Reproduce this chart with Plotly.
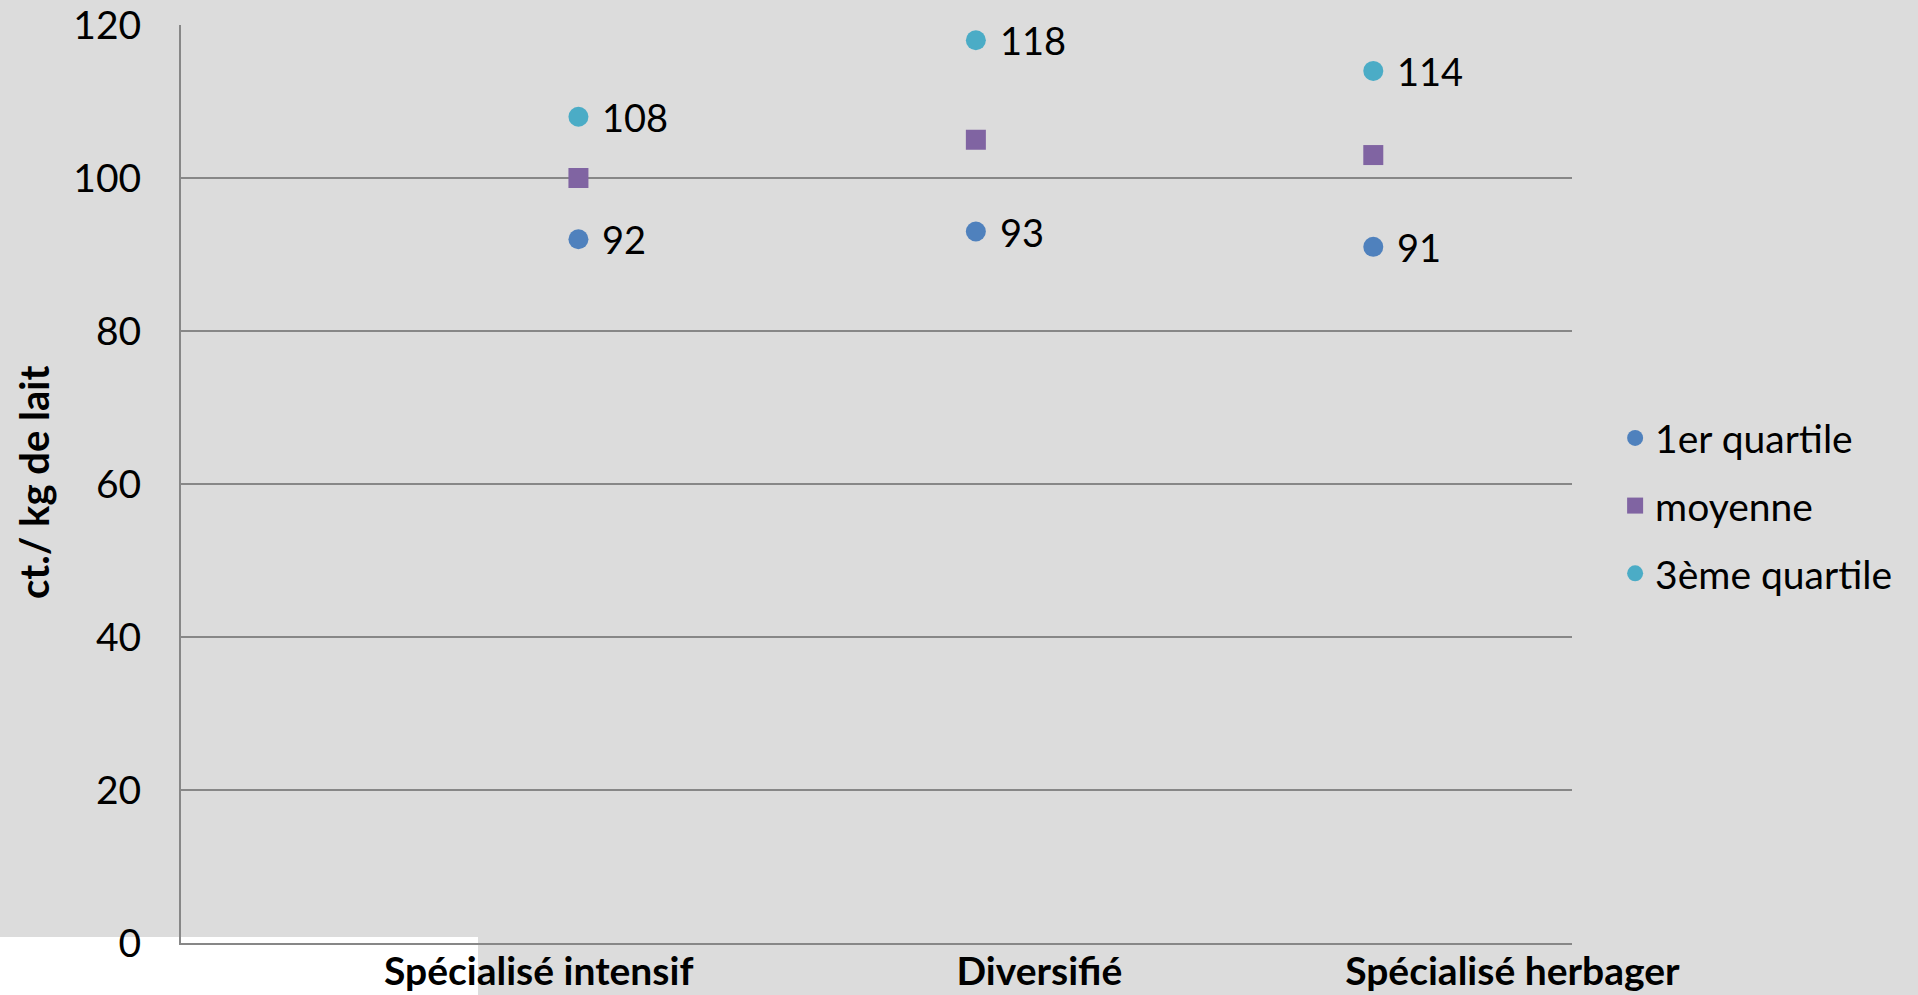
import plotly.graph_objects as go

# Data
categories = ["Spécialisé intensif", "Diversifié", "Spécialisé herbager"]
x_pos = [1, 2, 3]
q1 = [92, 93, 91]
moyenne = [100, 105, 103]
q3 = [108, 118, 114]
series_names = ["1er quartile", "moyenne", "3ème quartile"]
y_ticks = [0, 20, 40, 60, 80, 100, 120]

# Layout constants
W, H = 1918, 995
L, R, T, B = 181, 346, 25, 52
BG = "#DCDCDC"
GRID = "#878787"
FONT = "Lato"
label_tickvals = [0.9, 2.16, 3.35]

fig = go.Figure()
fig.add_trace(go.Scatter(
    x=x_pos, y=q1, name=series_names[0], mode="markers",
    marker=dict(symbol="circle", size=20, color="#4F81BD"),
    legendgroup="a", cliponaxis=False))
fig.add_trace(go.Scatter(
    x=x_pos, y=moyenne, name=series_names[1], mode="markers",
    marker=dict(symbol="square", size=20, color="#8064A2"),
    legendgroup="b", cliponaxis=False))
fig.add_trace(go.Scatter(
    x=x_pos, y=q3, name=series_names[2], mode="markers",
    marker=dict(symbol="circle", size=20, color="#4BACC6"),
    legendgroup="c", cliponaxis=False))

annotations = []
for series in (q1, q3):
    for xv, yv in zip(x_pos, series):
        annotations.append(dict(
            x=xv, y=yv, xref="x", yref="y", text=str(yv), showarrow=False,
            xanchor="left", yanchor="middle", xshift=22, yshift=0,
            font=dict(size=38, family=FONT, color="#000000")))
annotations.append(dict(
    text="<b>ct./ kg de lait</b>", textangle=-90,
    xref="paper", yref="paper",
    x=(34 - L) / (W - L - R), y=(943 - 483) / (H - T - B),
    xanchor="center", yanchor="middle", showarrow=False,
    font=dict(size=40, family=FONT)))

fig.update_layout(
    width=W, height=H,
    margin=dict(l=L, r=R, t=T, b=B, autoexpand=False),
    paper_bgcolor=BG, plot_bgcolor=BG,
    font=dict(family=FONT, size=38, color="#000000"),
    showlegend=True,
    legend=dict(x=1.031, xanchor="left", y=0.476, yanchor="middle",
                bgcolor="rgba(0,0,0,0)", font=dict(size=39, family=FONT),
                tracegroupgap=14, itemsizing="trace"),
    xaxis=dict(range=[0, 3.5], tickmode="array", tickvals=label_tickvals,
               ticktext=[f"<b>{c}</b>" for c in categories],
               showgrid=False, zeroline=False, showline=True,
               linecolor=GRID, linewidth=2, ticks="", automargin=False,
               tickfont=dict(size=39, family=FONT), ticklabelstandoff=-7),
    yaxis=dict(range=[0, 120], tickmode="array", tickvals=y_ticks,
               showgrid=True, gridcolor=GRID, gridwidth=2,
               zeroline=False, showline=True, linecolor=GRID, linewidth=2,
               ticks="", tickfont=dict(size=39, family=FONT), automargin=False,
               ticklabelstandoff=30),
    shapes=[dict(type="rect", xref="paper", yref="paper",
                 x0=-0.14, x1=(478 - L) / (W - L - R),
                 y0=-0.1, y1=(943 - 937) / (H - T - B),
                 fillcolor="#FFFFFF", line=dict(width=0), layer="below")],
    annotations=annotations,
)

fig.write_html("out.html", config={"displayModeBar": False},
               post_script="document.body.style.margin='0';document.body.style.overflow='hidden';")
